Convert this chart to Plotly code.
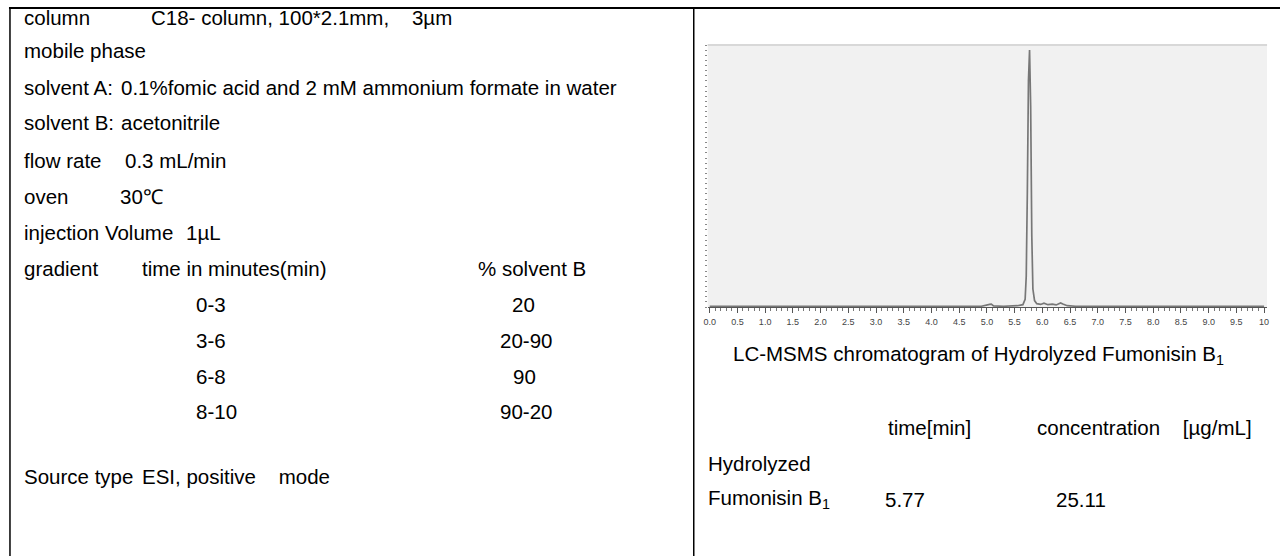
import plotly.graph_objects as go

# ---------------- data ----------------
param_labels = ["column", "mobile phase", "solvent A:", "solvent B:", "flow rate",
                "oven", "injection Volume", "gradient"]
param_values = ["C18- column, 100*2.1mm,\u00a0\u00a0\u00a0 3µm", "",
                "0.1%fomic acid and 2 mM ammonium formate in water",
                "acetonitrile", "0.3 mL/min", "30℃", "1µL", "time in minutes(min)"]
gradient_header_b = "% solvent B"
gradient_times = ["0-3", "3-6", "6-8", "8-10"]
gradient_b = ["20", "20-90", "90", "90-20"]
source_label = "Source type"
source_value = "ESI, positive\u00a0\u00a0\u00a0 mode"

chrom_title = "LC-MSMS chromatogram of Hydrolyzed Fumonisin B<sub>1</sub>"
result_headers = ["time[min]", "concentration\u00a0\u00a0\u00a0 [µg/mL]"]
analyte_lines = ["Hydrolyzed", "Fumonisin B<sub>1</sub>"]
result_time = "5.77"
result_conc = "25.11"

# chromatogram trace (relative intensity)
rt = [0.0, 1.0, 2.0, 3.0, 4.0, 4.9, 5.05, 5.08, 5.12, 5.3, 5.55, 5.65, 5.69, 5.71,
      5.73, 5.75, 5.77, 5.79, 5.81, 5.83, 5.86, 5.9, 5.97, 6.03, 6.1, 6.18, 6.25,
      6.33, 6.37, 6.45, 6.6, 7.0, 8.0, 9.0, 10.0]
intensity = [0.3, 0.3, 0.3, 0.3, 0.3, 0.3, 1.0, 1.1, 0.4, 0.3, 0.5, 0.9, 3.0, 12.0,
             45.0, 88.0, 100.0, 78.0, 28.0, 7.0, 2.5, 1.3, 1.0, 1.5, 0.9, 1.1, 0.8,
             1.6, 1.2, 0.5, 0.3, 0.3, 0.3, 0.3, 0.3]
tick_vals = [0.0, 0.5, 1.0, 1.5, 2.0, 2.5, 3.0, 3.5, 4.0, 4.5, 5.0, 5.5, 6.0, 6.5,
             7.0, 7.5, 8.0, 8.5, 9.0, 9.5, 10.0]
tick_text = ["0.0", "0.5", "1.0", "1.5", "2.0", "2.5", "3.0", "3.5", "4.0", "4.5",
             "5.0", "5.5", "6.0", "6.5", "7.0", "7.5", "8.0", "8.5", "9.0", "9.5", "10"]

# ---------------- layout helpers ----------------
W, H = 1282, 556
FONT = "Liberation Sans, Arial, sans-serif"
FS = 20.5


def px(x):
    return x / W


def py(y):
    return 1 - y / H


annotations = []


def txt(text, x, y, size=FS):
    annotations.append(dict(text=text, x=px(x - 3), y=py(y), xref="paper", yref="paper",
                            xanchor="left", yanchor="middle", showarrow=False,
                            font=dict(family=FONT, size=size, color="black")))


row_y = [17, 51, 87, 123, 160, 196, 232, 268]
value_x = [149, 0, 119, 119, 123, 118, 184, 140]
for lab, val, y, vx in zip(param_labels, param_values, row_y, value_x):
    txt(lab, 21, y)
    if val:
        txt(val, vx, y)
txt(gradient_header_b, 477, 268)

grad_y = [304, 340, 376, 412]
grad_bx = [511, 499, 512, 499]
for t, b, y, bx in zip(gradient_times, gradient_b, grad_y, grad_bx):
    txt(t, 194, y)
    txt(b, bx, y)

txt(source_label, 21, 476)
txt(source_value, 140, 476)

txt(chrom_title, 733, 355)
txt(result_headers[0], 889, 427)
txt(result_headers[1], 1039, 427)
txt(analyte_lines[0], 708, 463)
txt(analyte_lines[1], 708, 499)
txt(result_time, 886, 499)
txt(result_conc, 1058, 499)

shapes = [
    dict(type="line", xref="paper", yref="paper", x0=px(5), x1=px(1282), y0=py(8), y1=py(8),
         line=dict(color="black", width=2)),
    dict(type="line", xref="paper", yref="paper", x0=px(6), x1=px(6), y0=py(8), y1=py(556),
         line=dict(color="black", width=1.5)),
    dict(type="line", xref="paper", yref="paper", x0=px(693), x1=px(693), y0=py(8), y1=py(556),
         line=dict(color="black", width=1.5)),
    dict(type="line", xref="x domain", yref="y domain", x0=0, x1=1, y0=1, y1=1,
         line=dict(color="#d8d8d8", width=2)),
]

fig = go.Figure()
fig.add_trace(go.Scatter(x=rt, y=intensity, mode="lines",
                         line=dict(color="#777777", width=1.7), hoverinfo="skip"))

fig.update_layout(
    width=W, height=H,
    margin=dict(l=0, r=0, t=0, b=0),
    paper_bgcolor="white",
    plot_bgcolor="#f1f1f1",
    showlegend=False,
    annotations=annotations,
    shapes=shapes,
    xaxis=dict(domain=[px(707), px(1269)], range=[-0.036, 10.054],
               tickvals=tick_vals, ticktext=tick_text,
               ticks="outside", ticklen=5, tickcolor="#555", tickwidth=1,
               showline=True, linecolor="#555", linewidth=1,
               showgrid=False, zeroline=False, ticklabelstandoff=1,
               tickfont=dict(family=FONT, size=9, color="#444"),
               minor=dict(dtick=0.1, ticks="outside", ticklen=3, tickcolor="#777", showgrid=False)),
    yaxis=dict(domain=[py(307), py(45)], range=[0, 102],
               showticklabels=False, showgrid=False, zeroline=False,
               ticks="outside", ticklen=2, tickcolor="#888", dtick=2,
               showline=False),
)

fig.write_html("out.html", config={"displayModeBar": False},
               post_script="document.body.style.margin='0';document.body.style.overflow='hidden';")
